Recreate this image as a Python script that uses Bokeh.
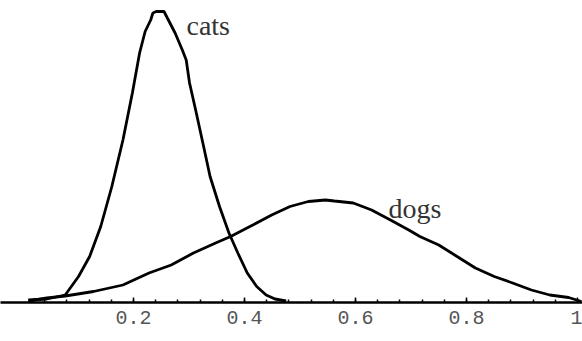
from bokeh.plotting import figure
from bokeh.models import FixedTicker, Label, Range1d
from bokeh.embed import file_html
from bokeh.resources import INLINE

# Cats distribution (x, density)
cats_x = [0.0105, 0.044, 0.077, 0.101, 0.121, 0.141, 0.161, 0.181, 0.198, 0.211,
          0.221, 0.231, 0.235, 0.241, 0.255, 0.261, 0.275, 0.288, 0.295, 0.301,
          0.312, 0.325, 0.338, 0.355, 0.372, 0.388, 0.405, 0.422, 0.439, 0.455, 0.475]
cats_y = [0.05, 0.07, 0.15, 0.52, 0.92, 1.52, 2.32, 3.25, 4.19, 4.99,
          5.42, 5.65, 5.79, 5.82, 5.82, 5.69, 5.39, 5.05, 4.85, 4.39,
          3.85, 3.19, 2.52, 1.92, 1.39, 0.99, 0.59, 0.32, 0.15, 0.07, 0.03]

# Dogs distribution (x, density)
dogs_x = [0.0105, 0.044, 0.077, 0.128, 0.181, 0.228, 0.268, 0.308, 0.348, 0.375,
          0.415, 0.449, 0.482, 0.515, 0.546, 0.562, 0.596, 0.629, 0.663, 0.696,
          0.716, 0.750, 0.783, 0.816, 0.850, 0.883, 0.917, 0.950, 0.984, 1.007]
dogs_y = [0.03, 0.09, 0.13, 0.22, 0.35, 0.59, 0.75, 0.99, 1.19, 1.32,
          1.55, 1.75, 1.92, 2.02, 2.05, 2.03, 1.99, 1.85, 1.65, 1.45,
          1.32, 1.15, 0.92, 0.69, 0.52, 0.39, 0.25, 0.15, 0.10, 0.02]

major_ticks = [0.2, 0.4, 0.6, 0.8, 1.0]
tick_labels = ["0.2", "0.4", "0.6", "0.8", "1"]
minor_ticks = [round(0.04 * k, 2) for k in range(1, 26)]

series_labels = ["cats", "dogs"]
label_pos_x = [0.2955, 0.6595]
label_pos_y = [5.54, 1.88]

p = figure(width=582, height=341, output_backend="svg", toolbar_location=None,
           x_range=Range1d(-0.0396, 1.009), y_range=Range1d(0, 6.04),
           y_axis_location=None, min_border_left=0, min_border_right=0,
           min_border_top=0, min_border_bottom=39)
p.outline_line_color = None
p.grid.visible = False
p.background_fill_color = "white"
p.border_fill_color = "white"

p.line(cats_x, cats_y, line_color="black", line_width=2.8)
p.line(dogs_x, dogs_y, line_color="black", line_width=2.8)

ax = p.xaxis[0]
ax.ticker = FixedTicker(ticks=major_ticks, minor_ticks=minor_ticks)
ax.major_label_overrides = {t: l for t, l in zip(major_ticks, tick_labels)}
ax.axis_label = None
ax.axis_label_standoff = 0
ax.axis_line_width = 2.5
ax.axis_line_color = "black"
ax.major_tick_in = 5
ax.major_tick_out = 0
ax.minor_tick_in = 3
ax.minor_tick_out = 0
ax.major_tick_line_width = 1.5
ax.minor_tick_line_width = 1.5
ax.major_label_text_font = "Liberation Mono"
ax.major_label_text_font_size = "20px"
ax.major_label_text_color = "#555555"
ax.major_label_standoff = 8

for name, lx, ly in zip(series_labels, label_pos_x, label_pos_y):
    p.add_layout(Label(x=lx, y=ly, text=name, text_font="Liberation Serif",
                       text_font_size="28px", text_color="#333333",
                       text_align="left", text_baseline="alphabetic"))

open("out.html", "w").write(file_html(p, INLINE))
